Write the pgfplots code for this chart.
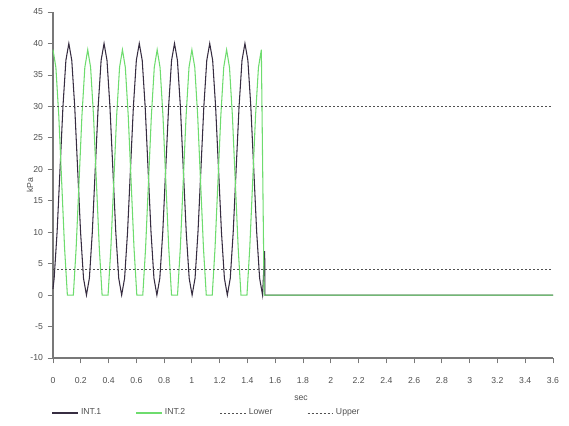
\documentclass[border=0pt]{standalone}
\usepackage{fontspec}
\setmainfont{Liberation Sans}
\usepackage{pgfplots}
\pgfplotsset{compat=1.18}
\definecolor{intone}{RGB}{55,45,65}
\definecolor{inttwo}{RGB}{110,220,110}
\definecolor{axgray}{RGB}{120,120,120}
\definecolor{txtgray}{RGB}{80,80,80}
\begin{document}
\begin{tikzpicture}
\begin{axis}[
  name=ax,
  scale only axis,
  width=375pt, height=259.5pt,
  xmin=0, xmax=3.6, ymin=-10, ymax=45,
  axis lines=left,
  axis line style={-, draw=axgray, line width=0.8pt},
  tick align=outside,
  major tick length=4pt,
  tick style={axgray, line width=0.6pt},
  xtick={0,0.2,0.4,0.6,0.8,1,1.2,1.4,1.6,1.8,2,2.2,2.4,2.6,2.8,3,3.2,3.4,3.6},
  ytick={-10,-5,0,5,10,15,20,25,30,35,40,45},
  /pgf/number format/assume math mode=true,
  ticklabel style={font=\fontsize{6.5}{8}\selectfont, text=txtgray},
  xticklabel style={yshift=-7pt},
  xlabel={sec},
  ylabel={kPa},
  label style={font=\fontsize{6.5}{8}\selectfont, text=txtgray},
  xlabel style={at={(axis description cs:0.496,0)}, anchor=center, yshift=-30pt},
  ylabel style={at={(axis description cs:-0.046,0.5)}, anchor=center, rotate=0},
  legend columns=4,
  legend style={at={(axis description cs:0,0)}, anchor=north west, xshift=-4pt, yshift=-34pt,
    draw=none, fill=none, font=\fontsize{6.5}{8}\selectfont, text=txtgray,
    /tikz/every even column/.append style={column sep=24pt}},
  legend image code/.code={\draw[#1] (0pt,0pt) -- (19pt,0pt);},
  clip=false
]
\addplot[intone, line width=0.8pt] coordinates {
(0,1) (0.00833,2.68) (0.02947,10) (0.0506,20) (0.07173,30) (0.09287,37.32) (0.1140,40)
(0.13513,37.32) (0.15627,30) (0.1774,20) (0.19853,10) (0.21967,2.68) (0.2408,0)
(0.26193,2.68) (0.28307,10) (0.3042,20) (0.32533,30) (0.34647,37.32) (0.3676,40)
(0.38873,37.32) (0.40987,30) (0.431,20) (0.45213,10) (0.47327,2.68) (0.4944,0)
(0.51553,2.68) (0.53667,10) (0.5578,20) (0.57893,30) (0.60007,37.32) (0.6212,40)
(0.64233,37.32) (0.66347,30) (0.6846,20) (0.70573,10) (0.72687,2.68) (0.748,0)
(0.76913,2.68) (0.79027,10) (0.8114,20) (0.83253,30) (0.85367,37.32) (0.8748,40)
(0.89593,37.32) (0.91707,30) (0.9382,20) (0.95933,10) (0.98047,2.68) (1.0016,0)
(1.02273,2.68) (1.04387,10) (1.065,20) (1.08613,30) (1.10727,37.32) (1.1284,40)
(1.14953,37.32) (1.17067,30) (1.1918,20) (1.21293,10) (1.23407,2.68) (1.2552,0)
(1.27633,2.68) (1.29747,10) (1.3186,20) (1.33973,30) (1.36087,37.32) (1.382,40)
(1.40313,37.32) (1.42427,30) (1.4454,20) (1.46653,10) (1.48767,2.68) (1.5088,0)
(1.524,7) (1.526,0) (3.6,0)
};
\addlegendentry{INT.1}
\addplot[inttwo, line width=0.8pt] coordinates {
(0,39) (0.0208,36.19) (0.0417,28.5) (0.0625,18) (0.0833,7.5) (0.1035,0) (0.1465,0)
(0.1667,7.5) (0.1875,18) (0.2083,28.5) (0.2292,36.19) (0.25,39)
(0.2708,36.19) (0.2917,28.5) (0.3125,18) (0.3333,7.5) (0.3535,0) (0.3965,0)
(0.4167,7.5) (0.4375,18) (0.4583,28.5) (0.4792,36.19) (0.5,39)
(0.5208,36.19) (0.5417,28.5) (0.5625,18) (0.5833,7.5) (0.6035,0) (0.6465,0)
(0.6667,7.5) (0.6875,18) (0.7083,28.5) (0.7292,36.19) (0.75,39)
(0.7708,36.19) (0.7917,28.5) (0.8125,18) (0.8333,7.5) (0.8535,0) (0.8965,0)
(0.9167,7.5) (0.9375,18) (0.9583,28.5) (0.9792,36.19) (1.0,39)
(1.0208,36.19) (1.0417,28.5) (1.0625,18) (1.0833,7.5) (1.1035,0) (1.1465,0)
(1.1667,7.5) (1.1875,18) (1.2083,28.5) (1.2292,36.19) (1.25,39)
(1.2708,36.19) (1.2917,28.5) (1.3125,18) (1.3333,7.5) (1.3535,0) (1.3965,0)
(1.4167,7.5) (1.4375,18) (1.4583,28.5) (1.4792,36.19) (1.5,39)
(1.52,0) (3.6,0)
};
\addlegendentry{INT.2}
\addplot[txtgray, line width=0.7pt, dash pattern=on 1.5pt off 1.5pt] coordinates {(0,4) (3.6,4)};
\addlegendentry{Lower}
\addplot[txtgray, line width=0.7pt, dash pattern=on 1.5pt off 1.5pt] coordinates {(0,30) (3.6,30)};
\addlegendentry{Upper}
\end{axis}
\useasboundingbox ([xshift=-39.75pt,yshift=-50.25pt]ax.south west) rectangle ([xshift=12pt,yshift=9pt]ax.north east);
\end{tikzpicture}
\end{document}
